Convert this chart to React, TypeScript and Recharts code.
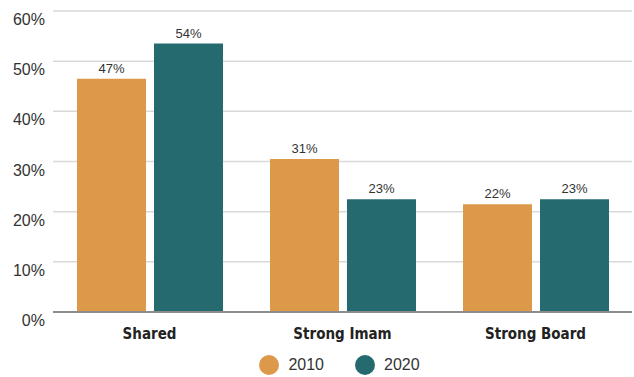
import { BarChart, Bar, XAxis, YAxis, CartesianGrid, Legend, LabelList } from "recharts"

const categories = ["Shared", "Strong Imam", "Strong Board"]
const values2010 = [46.5, 30.5, 21.5]
const values2020 = [53.5, 22.5, 22.5]
const yTicks = [0, 10, 20, 30, 40, 50, 60]

const COLOR_2010 = "#DC994A"
const COLOR_2020 = "#246A6F"
const FONT = "'Liberation Sans', Arial, sans-serif"

const data = categories.map((name, i) => ({
  name,
  y2010: values2010[i],
  y2020: values2020[i],
}))

const YTick = ({ x, y, payload }: any) => (
  <text x={x} y={y} dy={14} textAnchor="end" fill="#333" fontSize={16} fontFamily={FONT}>
    {payload.value}%
  </text>
)

const renderLegend = ({ payload }: any) => (
  <div style={{ display: "flex", justifyContent: "center", alignItems: "center", height: 25, gap: 31 }}>
    {(payload || []).map((entry: any) => (
      <div key={entry.value} style={{ display: "flex", alignItems: "center", gap: 9 }}>
        <span style={{ width: 20, height: 20, borderRadius: "50%", background: entry.color, display: "inline-block" }} />
        <span style={{ fontFamily: FONT, fontSize: 16, color: "#333" }}>{entry.value}</span>
      </div>
    ))}
  </div>
)

export default function App() {
  return (
    <div style={{ position: "absolute", left: 0, top: 0, background: "#fff" }}>
      <BarChart
        width={634}
        height={377}
        data={data}
        margin={{ top: 11, right: 2, left: 0, bottom: 0 }}
        barSize={69}
        barGap={8}
      >
        <CartesianGrid vertical={false} stroke="#d9d9d9" strokeWidth={1.5} />
        <XAxis
          dataKey="name"
          height={40}
          tickLine={false}
          tickMargin={10}
          axisLine={{ stroke: "#8c8c8c", strokeWidth: 2 }}
          tick={{ fill: "#222", fontSize: 15, fontWeight: 700, fontFamily: "'Liberation Sans Narrow', 'DejaVu Sans Condensed', Arial, sans-serif" }}
        />
        <YAxis
          width={53}
          domain={[0, 60]}
          ticks={yTicks}
          axisLine={false}
          tickLine={false}
          tick={<YTick />}
        />
        <Legend
          verticalAlign="bottom"
          height={25}
          wrapperStyle={{ left: 47, width: 585 }}
          content={renderLegend}
        />
        <Bar dataKey="y2010" name="2010" fill={COLOR_2010} isAnimationActive={false}>
          <LabelList
            dataKey="y2010"
            position="top"
            offset={6}
            formatter={(v: any) => `${Math.round(v)}%`}
            style={{ fill: "#333", fontSize: 13, fontFamily: FONT }}
          />
        </Bar>
        <Bar dataKey="y2020" name="2020" fill={COLOR_2020} isAnimationActive={false}>
          <LabelList
            dataKey="y2020"
            position="top"
            offset={6}
            formatter={(v: any) => `${Math.round(v)}%`}
            style={{ fill: "#333", fontSize: 13, fontFamily: FONT }}
          />
        </Bar>
      </BarChart>
    </div>
  )
}
